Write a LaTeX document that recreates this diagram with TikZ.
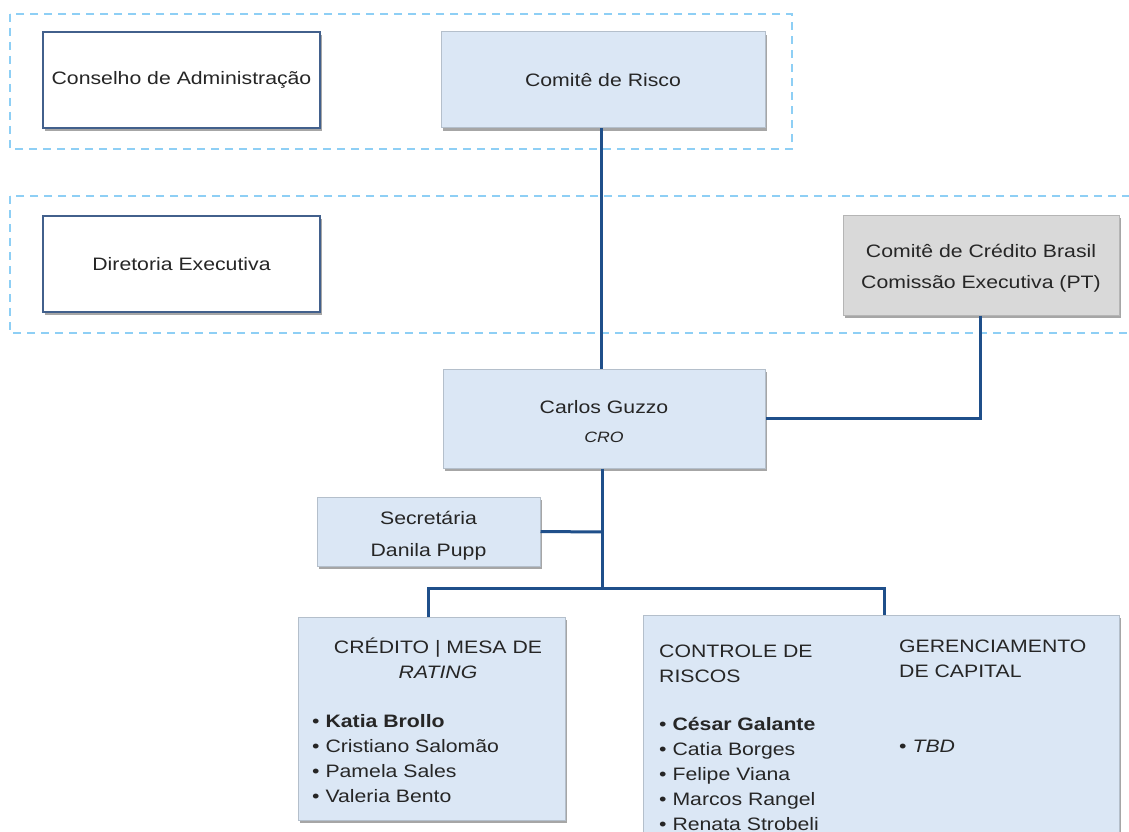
\documentclass[tikz,border=0pt]{standalone}
\usepackage{fontspec}
\setmainfont{Liberation Sans}[FakeStretch=1.18]
\usetikzlibrary{shadows}
\definecolor{dashblue}{HTML}{8ECFF5}
\definecolor{linkblue}{HTML}{1F4F8A}
\definecolor{boxfill}{HTML}{DBE7F5}
\definecolor{boxline}{HTML}{B4BFCB}
\definecolor{navyline}{HTML}{42608C}
\definecolor{grayfill}{HTML}{D9D9D9}
\definecolor{grayline}{HTML}{B5B5B5}
\definecolor{txt}{HTML}{262626}
\tikzset{
  groupbox/.style={draw=dashblue, line width=1.3pt, dash pattern=on 8pt off 6pt},
  shadowed/.style={drop shadow={shadow xshift=2pt, shadow yshift=-3pt, fill=black, opacity=0.35}},
  whitebox/.style={shadowed, draw=navyline, line width=2.4pt, fill=white, rectangle, align=center, text=txt, font=\fontsize{18}{25}\selectfont},
  bluebox/.style={shadowed, draw=boxline, line width=1pt, fill=boxfill, rectangle, align=center, text=txt, font=\fontsize{18}{25}\selectfont},
  graybox/.style={shadowed, draw=grayline, line width=1pt, fill=grayfill, rectangle, align=center, text=txt, font=\fontsize{18}{31}\selectfont},
  boxtext/.style={inner sep=0pt, align=left, text=txt, font=\fontsize{18}{25}\selectfont},
  link/.style={draw=linkblue, line width=3pt},
}
\begin{document}
\begin{tikzpicture}[x=1pt, y=-1pt]
\clip (0,0) rectangle (1129,832);
\fill[white] (0,0) rectangle (1129,832);
% group frames
\draw[groupbox] (10,14) rectangle (792,149);
\draw[groupbox] (10,196) rectangle (1140,333);
% boxes
\node[whitebox, minimum width=277pt, minimum height=96pt] (cons) at (181.5,80) {Conselho de Administração};
\node[bluebox, minimum width=324pt, minimum height=96pt] (crisco) at (603,80) {Comitê de Risco};
\node[whitebox, minimum width=277pt, minimum height=96pt] (dir) at (181.5,264) {Diretoria Executiva};
\node[graybox, minimum width=276pt, minimum height=100pt] (ccb) at (981,265) {\rule{0pt}{19pt}Comitê de Crédito Brasil\\Comissão Executiva (PT)};
\node[bluebox, minimum width=322pt, minimum height=99pt] (cro) at (604,418.5) {\rule{0pt}{19pt}Carlos Guzzo\\[4pt]{\fontsize{15}{18}\selectfont\itshape CRO}};
\node[bluebox, minimum width=223pt, minimum height=69pt] (sec) at (428.5,531.5) {\rule{0pt}{21pt}Secretária\\[7pt]Danila Pupp};
\node[bluebox, minimum width=267pt, minimum height=203pt] (cred) at (431.5,718.5) {};
\node[bluebox, minimum width=476pt, minimum height=236pt] (ctrl) at (881,733) {};
% texts inside the large boxes
\node[boxtext, align=center, anchor=north] (credt) at (438,638) {CRÉDITO | MESA DE\\\textit{RATING}};
\node[boxtext, anchor=north west] (credl) at (312,714) {• \textbf{Katia Brollo}\\• Cristiano Salomão\\• Pamela Sales\\• Valeria Bento};
\node[boxtext, anchor=north west] (ctrlt) at (659,645) {CONTROLE DE\\RISCOS};
\node[boxtext, anchor=north west] (ctrll) at (659,717) {• \textbf{César Galante}\\• Catia Borges\\• Felipe Viana\\• Marcos Rangel\\• Renata Strobeli};
\node[boxtext, anchor=north west] (gert) at (899,640) {GERENCIAMENTO\\DE CAPITAL};
\node[boxtext, anchor=north west] (tbd) at (899,740) {• \textit{TBD}};
% connectors
\coordinate (jsec) at (602,532);
\coordinate (jbus) at (602,588);
\coordinate (jl) at (428,588);
\coordinate (jr) at (884,588);
\draw[link] (crisco.south -| 601,0) -- (cro.north -| 601,0);
\draw[link] (ccb.south -| 980,0) |- (cro.east);
\draw[link] (cro.south -| jbus) -- (jbus);
\draw[link] (sec.east) -- (jsec);
\draw[link] (jl |- cred.north) -- (jl) -- (jr) -- (jr |- ctrl.north);
\end{tikzpicture}
\end{document}
